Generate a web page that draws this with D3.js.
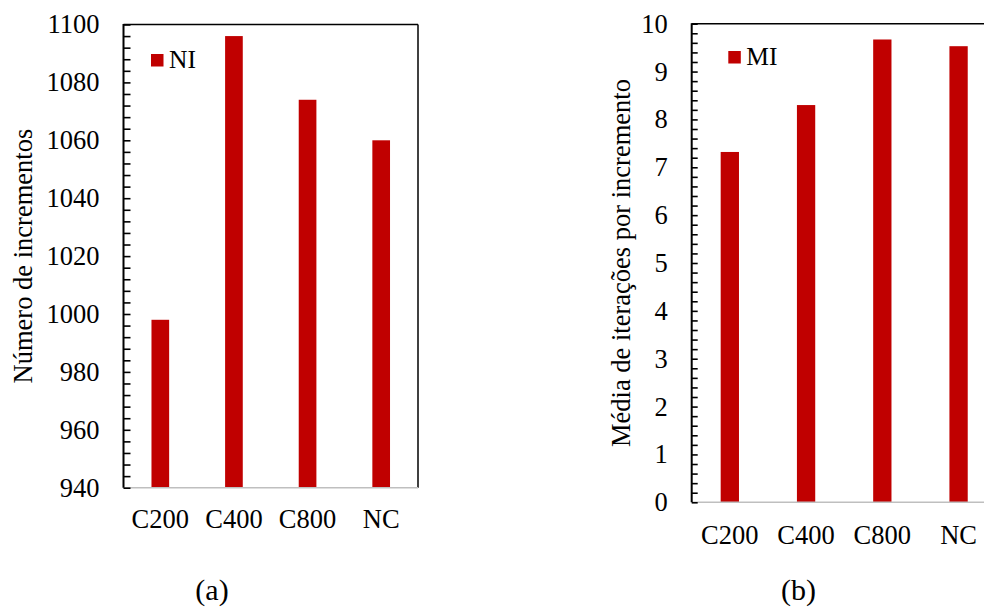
<!DOCTYPE html>
<html>
<head>
<meta charset="utf-8">
<script src="https://cdn.jsdelivr.net/npm/d3@7"></script>
<style>
  html, body { margin: 0; padding: 0; background: #fff; }
  svg { display: block; }
  svg text { font-family: "Liberation Serif", "Times New Roman", "DejaVu Serif", serif !important; }
</style>
</head>
<body>
<svg id="chart" width="984" height="608"></svg>
<script>
// ---- data ----
const categories = ["C200", "C400", "C800", "NC"];
const niValues = [998, 1096, 1074, 1060];
const miValues = [7.32, 8.30, 9.67, 9.53];
const niTicks = [940, 960, 980, 1000, 1020, 1040, 1060, 1080, 1100];
const miTicks = [0, 1, 2, 3, 4, 5, 6, 7, 8, 9, 10];
const niLabel = "Número de incrementos";
const miLabel = "Média de iterações por incremento";
const niLegend = "NI";
const miLegend = "MI";
const captions = ["(a)", "(b)"];

const svg = d3.select("#chart");
const barColor = "#c00000";
const fontSize = 26.5;

function panel(cfg) {
  const { x0, x1, y0, y1, values, ticks, domain, minorStep, label, labelX,
          legend, legX, legY, caption, capX, tickLen, xLabelOff } = cfg;
  const g = svg.append("g");
  const x = d3.scaleBand().domain(categories).range([x0, x1])
    .paddingInner(0.76).paddingOuter(0.38);
  const y = d3.scaleLinear().domain(domain).range([y1, y0]);

  // bars
  g.selectAll("rect.bar").data(values).enter().append("rect")
    .attr("class", "bar")
    .attr("x", (d, i) => x(categories[i]))
    .attr("width", x.bandwidth())
    .attr("y", d => y(d))
    .attr("height", d => y1 - y(d))
    .attr("fill", barColor);

  // frame: top and right black, bottom gray
  g.append("line").attr("x1", x0).attr("x2", x1).attr("y1", y0).attr("y2", y0)
    .attr("stroke", "#000").attr("stroke-width", 1.5);
  g.append("line").attr("x1", x1).attr("x2", x1).attr("y1", y0).attr("y2", y1)
    .attr("stroke", "#000").attr("stroke-width", 1.5);
  g.append("line").attr("x1", x0).attr("x2", x1).attr("y1", y1).attr("y2", y1)
    .attr("stroke", "#bfbfbf").attr("stroke-width", 1.5);

  // minor ticks (inside)
  const minor = d3.range(domain[0], domain[1] + minorStep / 2, minorStep);
  const yAxisMinor = d3.axisRight(y).tickValues(minor).tickSize(tickLen).tickFormat("");
  const ga = g.append("g").attr("transform", `translate(${x0},0)`).call(yAxisMinor);
  ga.select(".domain").remove();
  ga.selectAll(".tick line").attr("stroke", "#000").attr("stroke-width", 1.6);

  // y axis line
  g.append("line").attr("x1", x0).attr("x2", x0).attr("y1", y0 - 0.5).attr("y2", y1)
    .attr("stroke", "#000").attr("stroke-width", 2);

  // major tick labels
  const yAxis = d3.axisLeft(y).tickValues(ticks).tickSize(0).tickPadding(24)
    .tickFormat(d3.format("d"));
  const gl = g.append("g").attr("transform", `translate(${x0},0)`).call(yAxis);
  gl.select(".domain").remove();
  gl.attr("font-family", null).attr("font-size", null);
  gl.selectAll("text").attr("font-size", fontSize).attr("fill", "#000");

  // x labels
  const xAxis = d3.axisBottom(x).tickSize(0).tickPadding(0);
  const gx = g.append("g").attr("transform", `translate(0,${y1})`).call(xAxis);
  gx.select(".domain").remove();
  gx.attr("font-family", null).attr("font-size", null);
  gx.selectAll("text").attr("font-size", fontSize).attr("dy", null).attr("y", xLabelOff)
    .attr("fill", "#000");

  // y title
  g.append("text").attr("transform", `translate(${labelX},${(y0 + y1) / 2}) rotate(-90)`)
    .attr("text-anchor", "middle").attr("dy", "0.35em")
    .attr("font-size", fontSize).text(label);

  // legend
  g.append("rect").attr("x", legX).attr("y", legY).attr("width", 12.5).attr("height", 12.5)
    .attr("fill", barColor);
  g.append("text").attr("x", legX + 18).attr("y", legY + 13.5)
    .attr("font-size", 25.5).text(legend);

  // caption
  g.append("text").attr("x", capX).attr("y", 600).attr("text-anchor", "middle")
    .attr("font-size", 30).text(caption);
}

panel({ x0: 123.5, x1: 418, y0: 24.5, y1: 487.7, values: niValues, ticks: niTicks,
  domain: [940, 1100], minorStep: 4, label: niLabel, labelX: 23,
  legend: niLegend, legX: 151, legY: 54, caption: captions[0], capX: 212,
  tickLen: 7, xLabelOff: 40.5 });

panel({ x0: 691.7, x1: 996.7, y0: 23.7, y1: 502.3, values: miValues, ticks: miTicks,
  domain: [0, 10], minorStep: 0.2, label: miLabel, labelX: 621,
  legend: miLegend, legX: 728.3, legY: 51, caption: captions[1], capX: 798.5,
  tickLen: 6, xLabelOff: 41.5 });
</script>
</body>
</html>
